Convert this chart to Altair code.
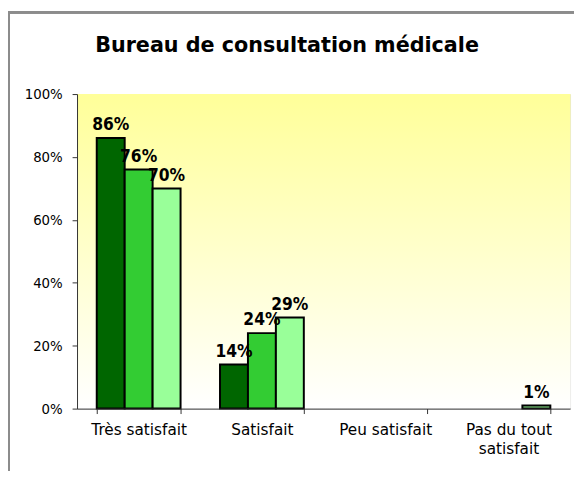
import altair as alt
import pandas as pd

title_text = "Bureau de consultation médicale"
categories = ["Très satisfait", "Satisfait", "Peu satisfait", "Pas du tout satisfait"]
series = ["Série 1", "Série 2", "Série 3"]
values = {
    "Série 1": [86, 14, 0, 0],
    "Série 2": [76, 24, 0, 0],
    "Série 3": [70, 29, 0, 1],
}
colors = ["#006600", "#33CC33", "#99FF99"]

rows = []
for s in series:
    for c, v in zip(categories, values[s]):
        rows.append({"cat": c, "serie": s, "value": v})
df = pd.DataFrame(rows)

W, H = 500, 319
FONT_C = "DejaVu Sans Condensed, DejaVu Sans"
FONT = "DejaVu Sans"

xscale = alt.Scale(domain=categories, paddingInner=0.32, paddingOuter=0.16)
oscale = alt.Scale(domain=series)

xenc = alt.X("cat:N", title=None, scale=xscale,
             axis=alt.Axis(labelAngle=0, tickBand="extent", tickSize=5, labelPadding=9,
                           labelFontSize=15.5, labelColor="black", labelFont=FONT,
                           labelLineHeight=20, domainColor="#333", tickColor="#333",
                           zindex=1,
                           labelExpr="datum.label == 'Pas du tout satisfait' ? ['Pas du tout', 'satisfait'] : datum.label"))
yenc = alt.Y("value:Q", title=None,
             scale=alt.Scale(domain=[0, 100], nice=False),
             axis=alt.Axis(values=[0, 20, 40, 60, 80, 100], grid=False, tickSize=5,
                           labelPadding=10, labelFontSize=15, labelColor="black", labelFont=FONT_C,
                           zindex=1,
                           labelExpr="datum.value + '%'", domainColor="#333", tickColor="#333"))

base = alt.Chart(df)

frame = base.mark_rect(filled=False, stroke="#8c8c8c", strokeWidth=2).encode(
    x=alt.value(-69), x2=alt.value(W + 40), y=alt.value(-83), y2=alt.value(H + 120)
)

title = alt.Chart(pd.DataFrame({"t": [title_text]})).mark_text(
    fontSize=21, fontWeight="bold", font=FONT, color="black", baseline="middle", align="center"
).encode(x=alt.value(213), y=alt.value(-49), text="t:N")

bg = base.mark_rect(
    color=alt.Gradient(gradient="linear", x1=0, y1=0, x2=0, y2=1,
                       stops=[alt.GradientStop(color="#FFFF99", offset=0),
                              alt.GradientStop(color="#FFFFFF", offset=1)])
).encode(x=alt.value(0), x2=alt.value(W), y=alt.value(0), y2=alt.value(H))

bars = base.transform_filter("datum.value > 0").mark_bar(stroke="black", strokeWidth=2).encode(
    x=xenc,
    xOffset=alt.XOffset("serie:N", scale=oscale),
    y=yenc,
    color=alt.Color("serie:N", scale=alt.Scale(domain=series, range=colors), legend=None),
)

labels = base.transform_filter("datum.value > 0").transform_calculate(
    lab="datum.value + '%'"
).mark_text(baseline="bottom", dy=-4, fontWeight="bold", fontSize=17.5, font=FONT_C, color="black").encode(
    x=alt.X("cat:N", scale=xscale),
    xOffset=alt.XOffset("serie:N", scale=oscale),
    y=alt.Y("value:Q"),
    text="lab:N",
)

chart = alt.layer(frame, bg, bars, labels, title).properties(
    width=W, height=H,
    autosize=alt.AutoSizeParams(type="none"),
    padding={"left": 70, "top": 84, "right": 4, "bottom": 60},
).configure_view(stroke=None).configure(background="white")

chart.save("out.html", embed_options={"renderer": "svg", "actions": False})
